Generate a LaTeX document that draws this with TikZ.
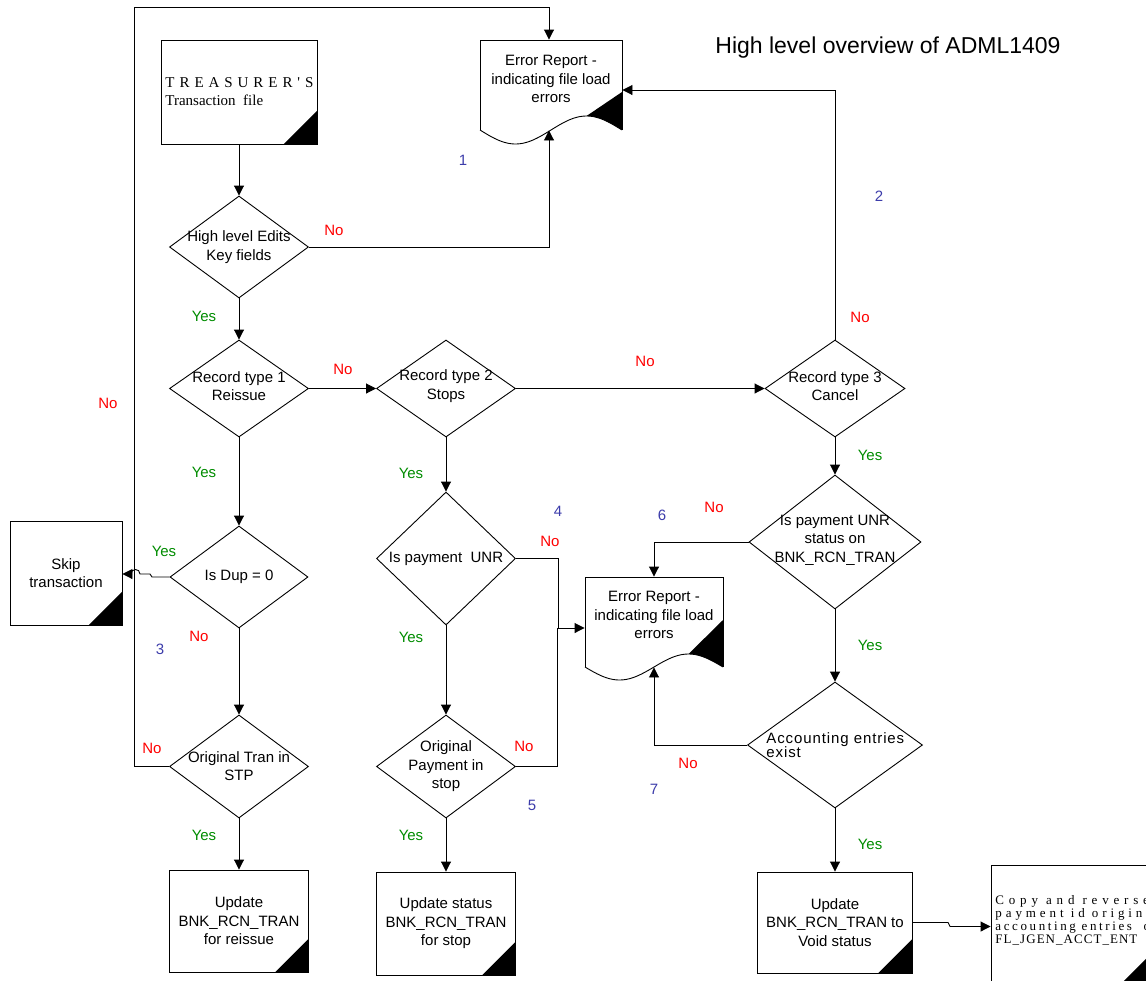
\documentclass[tikz,border=0pt]{standalone}
\usepackage{fontspec}
\setmainfont{Liberation Sans}
\newfontfamily\tms{Liberation Serif}
\usetikzlibrary{shapes.geometric,arrows.meta,calc}
\definecolor{noRed}{RGB}{255,0,0}
\definecolor{yesGreen}{RGB}{0,140,0}
\definecolor{numBlue}{RGB}{60,60,170}
\begin{document}
\begin{tikzpicture}[x=1pt,y=-1pt,
  font=\fontsize{15}{18.5}\selectfont,
  line width=0.9pt,
  decision/.style={diamond, draw, inner sep=0pt},
  procbox/.style={rectangle, draw, inner sep=0pt},
  txt/.style={inner sep=0pt, align=center},
  nolbl/.style={inner sep=0pt, text=noRed},
  yeslbl/.style={inner sep=0pt, text=yesGreen},
  numlbl/.style={inner sep=0pt, text=numBlue},
  arr/.style={-{Triangle[length=10pt,width=10pt]}}
]
\useasboundingbox (0,0) rectangle (1146,980);
\clip (0,0) rectangle (1146,980);

% ---------- title
\node[inner sep=0pt, font=\fontsize{23}{27}\selectfont] (title) at (888,48) {High level overview of ADML1409};

% ---------- source file
\node[procbox, minimum width=156pt, minimum height=104pt] (treas) at (239,92) {};
\fill (treas.south east) -- ++(-34pt,0pt) -- ++(34pt,34pt) -- cycle;
\node[inner sep=0pt, anchor=west, align=left, font=\tms\fontsize{15}{18}\selectfont] (treastext) at (165,92)
  {\hbox to 148pt{T\hfill R\hfill E\hfill A\hfill S\hfill U\hfill R\hfill E\hfill R\hfill '\hfill S}\\Transaction~ file};

% ---------- error report 1 (document shape)
\node[inner sep=0pt, minimum width=142pt, minimum height=90pt] (err1) at (551,85) {};
\draw (480,130) -- (480,40) -- (622,40) -- (622,130);
\draw plot[domain=0:1, samples=60] ({480+142*\x},{130+14*sin(360*\x)});
\fill (586.5,116) -- (622,92) -- (622,130) -- plot[domain=1:0.75, samples=20] ({480+142*\x},{130+14*sin(360*\x)}) -- cycle;
\node[txt] (err1t) at (551,79) {Error Report -\\indicating file load\\errors};

% ---------- error report 2 (document shape)
\node[inner sep=0pt, minimum width=138pt, minimum height=90pt] (err2) at (654,622) {};
\draw (585,667) -- (585,577) -- (723,577) -- (723,667);
\draw plot[domain=0:1, samples=60] ({585+138*\x},{667+13*sin(360*\x)});
\fill (688.5,654) -- (723,620) -- (723,667) -- plot[domain=1:0.75, samples=20] ({585+138*\x},{667+13*sin(360*\x)}) -- cycle;
\node[txt] (err2t) at (654,615) {Error Report -\\indicating file load\\errors};

% ---------- decisions
\node[decision, minimum width=139pt, minimum height=102pt] (d1) at (239,247) {};
\node[txt] (d1t) at (d1) {High level Edits\\Key fields};
\node[decision, minimum width=139pt, minimum height=97pt] (d2) at (239,388.5) {};
\node[txt] (d2t) at (239,386) {Record type 1\\Reissue};
\node[decision, minimum width=139pt, minimum height=97pt] (d3) at (446,388.5) {};
\node[txt] (d3t) at (446,386) {Record type 2\\Stops};
\node[decision, minimum width=140pt, minimum height=97pt] (d4) at (835,388.5) {};
\node[txt] (d4t) at (835,386) {Record type 3\\Cancel};
\node[decision, minimum width=138pt, minimum height=102pt] (d5) at (239,577) {};
\node[txt] (d5t) at (d5) {Is Dup = 0};
\node[decision, minimum width=139pt, minimum height=133pt] (d6) at (446,558.5) {};
\node[txt] (d6t) at (d6) {Is payment~ UNR};
\node[decision, minimum width=172pt, minimum height=134pt] (d7) at (835,542) {};
\node[txt] (d7t) at (835,540) {Is payment UNR\\status on\\BNK\_RCN\_TRAN};
\node[decision, minimum width=175pt, minimum height=126pt] (d8) at (835,745) {};
\node[inner sep=0pt, anchor=west, align=left, font=\fontsize{15}{14.5}\selectfont\addfontfeature{LetterSpace=6}] (d8t) at (766,745) {Accounting entries\\exist};
\node[decision, minimum width=139pt, minimum height=103pt] (d9) at (239,766.5) {};
\node[txt] (d9t) at (239,766) {Original Tran in\\STP};
\node[decision, minimum width=139pt, minimum height=103pt] (d10) at (446,766.5) {};
\node[txt] (d10t) at (d10) {Original\\Payment in\\stop};

% ---------- process boxes
\node[procbox, minimum width=112pt, minimum height=104pt] (skip) at (66,573) {};
\fill (skip.south east) -- ++(-34pt,0pt) -- ++(34pt,34pt) -- cycle;
\node[txt] (skipt) at (skip) {Skip\\transaction};
\node[procbox, minimum width=139pt, minimum height=102pt] (upd1) at (239,921) {};
\fill (upd1.south east) -- ++(-34pt,0pt) -- ++(34pt,34pt) -- cycle;
\node[txt] (upd1t) at (upd1) {Update\\BNK\_RCN\_TRAN\\for reissue};
\node[procbox, minimum width=139pt, minimum height=103pt] (upd2) at (446,923.5) {};
\fill (upd2.south east) -- ++(-34pt,0pt) -- ++(34pt,34pt) -- cycle;
\node[txt] (upd2t) at (upd2) {Update status\\BNK\_RCN\_TRAN\\for stop};
\node[procbox, minimum width=155pt, minimum height=101pt] (upd3) at (835,922.5) {};
\fill (upd3.south east) -- ++(-35pt,0pt) -- ++(35pt,35pt) -- cycle;
\node[txt] (upd3t) at (upd3) {Update\\BNK\_RCN\_TRAN to\\Void status};
\node[procbox, minimum width=159pt, minimum height=123pt] (copy) at (1070.5,926.5) {};
\fill (copy.south east) -- ++(-34pt,0pt) -- ++(34pt,34pt) -- cycle;
\node[inner sep=0pt, anchor=north west, align=left, font=\tms\fontsize{13}{12.7}\selectfont] (copyt) at (995,895.5)
  {{\addfontfeature{LetterSpace=37}Copy and reverse}\\
   {\addfontfeature{LetterSpace=30}payment id original}\\
   {\addfontfeature{LetterSpace=20}accounting entries~ on}\\
   {\addfontfeature{LetterSpace=8}FL\_JGEN\_ACCT\_ENT}};

% ---------- connectors
\draw[arr] (treas.south) -- (d1.north);
\draw[arr] (d1.south) -- (d2.north);
\draw[arr] (d1.east) -| ([xshift=-2pt]err1.south);
\draw[arr] (d2.east) -- (d3.west);
\draw[arr] (d3.east) -- (d4.west);
\draw[arr] (d4.north) |- ([yshift=-5pt]err1.east);
\draw[arr] (d2.south) -- (d5.north);
\draw[arr] (d5.west) -- (152,577) -- (150,574) -- (140,574) .. controls (140,568) and (131,568) .. (131,574) -- ([yshift=-1pt]skip.east);
\draw[arr] (d5.south) -- (d9.north);
\draw[arr] (d9.west) -- ++(-35pt,0pt) |- ([xshift=-2pt,yshift=32pt]err1.north) -- ([xshift=-2pt]err1.north);
\draw[arr] (d9.south) -- (upd1.north);
\draw[arr] (d3.south) -- (d6.north);
\draw[arr] (d6.east) -- ++(42pt,0pt) |- ([yshift=-6pt]err2.west);
\draw (d10.east) -| ([xshift=-27pt,yshift=-6pt]err2.west);
\draw[arr] (d6.south) -- (d10.north);
\draw[arr] (d10.south) -- (upd2.north);
\draw[arr] (d4.south) -- (d7.north);
\draw[arr] (d7.west) -| (err2.north);
\draw[arr] (d7.south) -- (d8.north);
\draw[arr] (d8.west) -| (err2.south);
\draw[arr] (d8.south) -- (upd3.north);
\draw[arr] (upd3.east) -- (948,922.5) -- (950,926.5) -- (copy.west);

% ---------- branch labels
\node[nolbl] (n1) at (334,230) {No};
\node[yeslbl] (y1) at (204,316) {Yes};
\node[nolbl] (n2) at (343,369) {No};
\node[nolbl] (n3) at (645,361) {No};
\node[nolbl] (n4) at (860,317) {No};
\node[yeslbl] (y2) at (870,455) {Yes};
\node[nolbl] (n5) at (108,403) {No};
\node[yeslbl] (y3) at (204,472) {Yes};
\node[yeslbl] (y4) at (411,473) {Yes};
\node[numlbl] (c4) at (558,511) {4};
\node[nolbl] (n6) at (550,541) {No};
\node[numlbl] (c6) at (662,515) {6};
\node[nolbl] (n7) at (714,507) {No};
\node[yeslbl] (y5) at (164,551) {Yes};
\node[nolbl] (n8) at (199,636) {No};
\node[numlbl] (c3) at (160,649) {3};
\node[yeslbl] (y6) at (411,637) {Yes};
\node[yeslbl] (y7) at (870,645) {Yes};
\node[nolbl] (n9) at (152,748) {No};
\node[nolbl] (n10) at (524,746) {No};
\node[nolbl] (n11) at (688,763) {No};
\node[numlbl] (c7) at (654,789) {7};
\node[numlbl] (c5) at (532,805) {5};
\node[yeslbl] (y8) at (204,835) {Yes};
\node[yeslbl] (y9) at (411,835) {Yes};
\node[yeslbl] (y10) at (870,844) {Yes};
\node[numlbl] (c1) at (463,160) {1};
\node[numlbl] (c2) at (879,196) {2};
\end{tikzpicture}
\end{document}
